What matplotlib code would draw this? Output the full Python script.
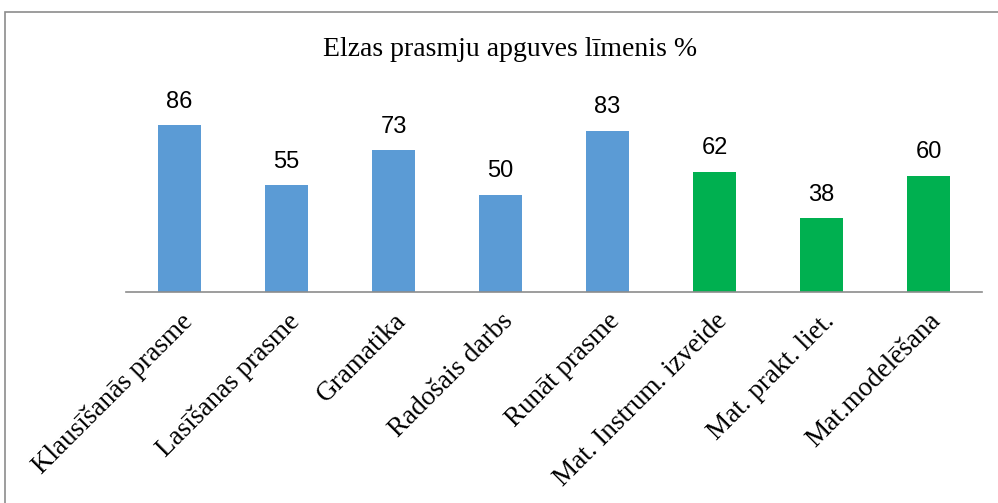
from matplotlib import pyplot as plt
from matplotlib.patches import Rectangle

# dati
categories = ['Klausīšanās prasme', 'Lasīšanas prasme', 'Gramatika', 'Radošais darbs',
              'Runāt prasme', 'Mat. Instrum. izveide', 'Mat. prakt. liet.', 'Mat.modelēšana']
values = [86, 55, 73, 50, 83, 62, 38, 60]
groups = ['val', 'val', 'val', 'val', 'val', 'mat', 'mat', 'mat']
title = 'Elzas prasmju apguves līmenis %'

group_colors = {'val': '#5B9BD5', 'mat': '#00B050'}

fig = plt.figure(figsize=(9.98, 5.03), dpi=100)
ax = fig.add_axes([0.1263, 0.4195, 0.8577, 0.3857])

x = range(len(categories))
bars = ax.bar(x, values, width=0.4, color=[group_colors[g] for g in groups])
ax.bar_label(bars, padding=9, fontsize=17, family=['Liberation Sans', 'DejaVu Sans'])

ax.set_xlim(-0.5, len(categories) - 0.5)
ax.set_ylim(0, 100)
ax.set_yticks([])
for side in ['top', 'right', 'left']:
    ax.spines[side].set_visible(False)
ax.spines['bottom'].set_color('#8c8c8c')
ax.spines['bottom'].set_linewidth(1.2)

ax.set_xticks(list(x))
ax.set_xticklabels(categories, rotation=45, ha='right', rotation_mode='anchor',
                   fontsize=19.5, family=['Liberation Serif', 'DejaVu Serif'])
ax.tick_params(axis='x', length=0, pad=12)

fig.text(510 / 998, 1 - 50 / 503, title, ha='center', va='center', fontsize=20,
         family=['Liberation Serif', 'DejaVu Serif'])

# rāmis
fig.patches.append(Rectangle((4.5 / 998, -0.1), 1.2, 1 - 12.5 / 503 + 0.1,
                             transform=fig.transFigure, fill=False,
                             edgecolor='#8c8c8c', linewidth=1.2))

fig.savefig('out.png', dpi=100)
